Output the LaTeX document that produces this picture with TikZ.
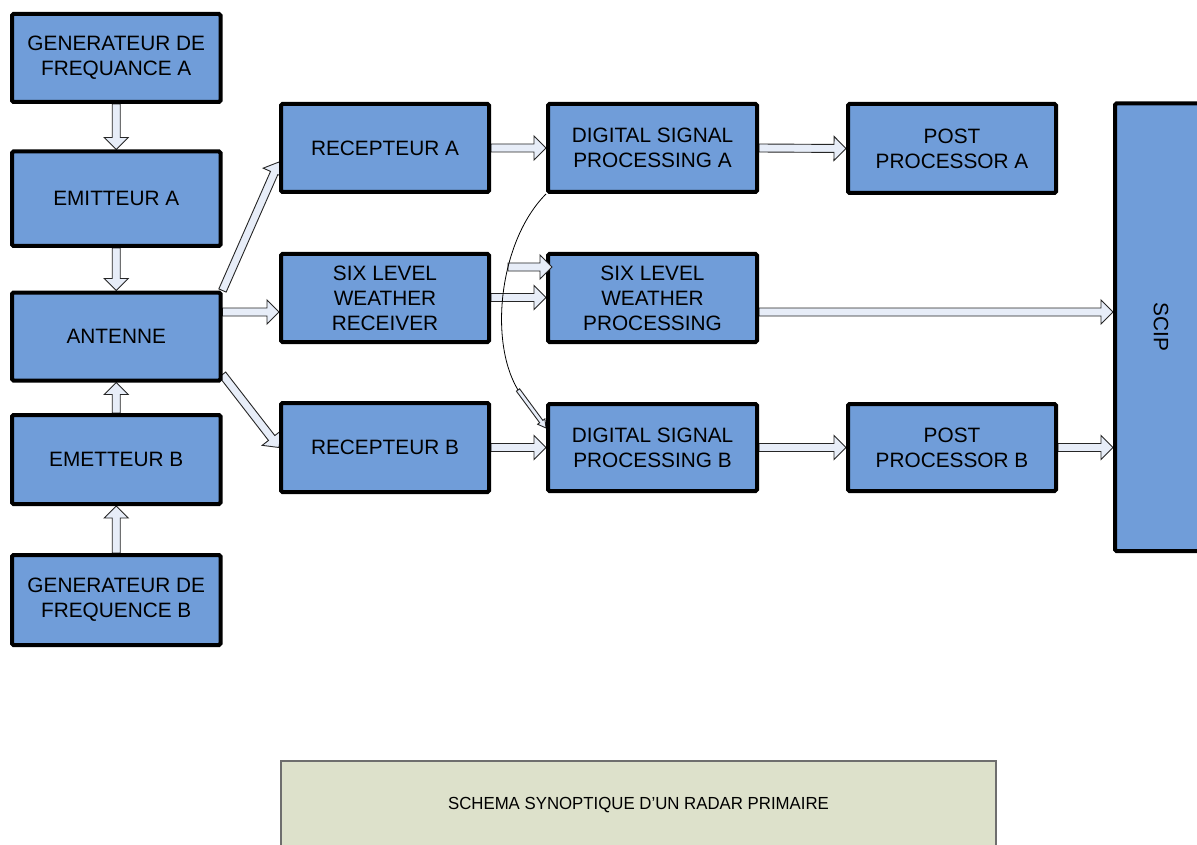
\documentclass[tikz,border=0pt]{standalone}
\usepackage{fontspec}
\setmainfont{Liberation Sans}
\newfontfamily\capfont[FakeStretch=0.96]{Liberation Sans}
\usetikzlibrary{calc}
\definecolor{boxblue}{RGB}{112,157,217}
\definecolor{arrowfill}{RGB}{231,237,248}
\definecolor{capfill}{RGB}{221,225,203}
\definecolor{capline}{RGB}{110,110,110}
\pgfdeclarelayer{bg}
\pgfsetlayers{bg,main}
% half shaft, half head, head length, start, end
\newcommand\blkarrow[5]{%
  \path (#4) coordinate (ba-s) (#5) coordinate (ba-e);
  \path ($(ba-e)!#3!(ba-s)$) coordinate (ba-h);
  \draw[arrowshape] ($(ba-s)!#1!90:(ba-e)$) -- ($(ba-h)!#1!90:(ba-e)$)
    -- ($(ba-h)!#2!90:(ba-e)$) -- (ba-e) -- ($(ba-h)!#2!-90:(ba-e)$)
    -- ($(ba-h)!#1!-90:(ba-e)$) -- ($(ba-s)!#1!-90:(ba-e)$) -- cycle;
}
\begin{document}
\begin{tikzpicture}[x=1pt,y=-1pt,
  box/.style={draw=black, line width=4pt, fill=boxblue, rounded corners=1.5pt,
    align=center, inner sep=0pt, text=black,
    font=\fontsize{20.8pt}{25pt}\selectfont},
  arrowshape/.style={draw=black!85, line width=0.9pt, fill=arrowfill, line join=miter},
  capbox/.style={draw=capline, line width=1.2pt, fill=capfill, inner sep=0pt,
    font=\capfont\fontsize{17.5pt}{20pt}\selectfont}]
\clip (0,0) rectangle (1197,845);

% left column
\node[box, minimum width=208.5pt, minimum height=88pt] (genA) at (116.25,58) {GENERATEUR DE\\FREQUANCE A};
\node[box, minimum width=208.5pt, minimum height=94.5pt] (emA) at (116.25,198.75) {EMITTEUR A};
\node[box, minimum width=208.5pt, minimum height=88pt] (ant) at (116.25,336.5) {ANTENNE};
\node[box, minimum width=208.5pt, minimum height=89pt] (emB) at (116.25,459.5) {EMETTEUR B};
\node[box, minimum width=208.5pt, minimum height=90pt] (genB) at (116.25,600) {GENERATEUR DE\\FREQUENCE B};

% second column
\node[box, minimum width=208pt, minimum height=88pt] (recA) at (385,148) {RECEPTEUR A};
\node[box, minimum width=208pt, minimum height=88pt] (slr) at (385,298) {SIX LEVEL\\WEATHER\\RECEIVER};
\node[box, minimum width=208pt, minimum height=89pt] (recB) at (385,447.5) {RECEPTEUR B};

% third column
\node[box, minimum width=209pt, minimum height=88pt] (dspA) at (652.5,148) {DIGITAL SIGNAL\\PROCESSING A};
\node[box, minimum width=209pt, minimum height=88pt] (slw) at (652.5,298) {SIX LEVEL\\WEATHER\\PROCESSING};
\node[box, minimum width=209pt, minimum height=87pt] (dspB) at (652.5,447.5) {DIGITAL SIGNAL\\PROCESSING B};

% fourth column
\node[box, minimum width=208pt, minimum height=89pt] (postA) at (952,148.5) {POST\\PROCESSOR A};
\node[box, minimum width=208pt, minimum height=87pt] (postB) at (952,447.5) {POST\\PROCESSOR B};

% SCIP
\node[box, minimum width=92pt, minimum height=447.5pt] (scip) at (1161,327.25) {};
\node[rotate=-90, font=\fontsize{20.8pt}{25pt}\selectfont, inner sep=0pt] (sciplabel) at (scip.center) {SCIP};

% caption
\node[capbox, minimum width=715pt, minimum height=88pt] (cap) at (638.5,805) {SCHEMA SYNOPTIQUE D’UN RADAR PRIMAIRE};

% helper coordinates
\coordinate (cv) at (518,390);
\coordinate (cw) at (508,267);

\begin{pgfonlayer}{bg}
  \fill[white] (0,0) rectangle (1197,845);
  \blkarrow{4pt}{12pt}{12pt}{genA.south}{emA.north}
  \blkarrow{4pt}{12pt}{12pt}{emA.south}{ant.north}
  \blkarrow{4pt}{12pt}{12pt}{emB.north}{ant.south}
  \blkarrow{4pt}{12pt}{12pt}{genB.north}{emB.south}
  \blkarrow{4pt}{12pt}{12pt}{ant.north east}{$(recA.west)+(0,14)$}
  \path ($(slr.west)+(0,14)$) coordinate (slrin);
  \blkarrow{4pt}{12pt}{12pt}{ant.east |- slrin}{slrin}
  \blkarrow{4pt}{12pt}{12pt}{$(ant.south east)+(0,-8)$}{recB.west}
  \blkarrow{4pt}{12pt}{12pt}{recA.east}{dspA.west}
  \blkarrow{4pt}{12pt}{12pt}{recB.east}{dspB.west}
  \blkarrow{4pt}{12pt}{12pt}{dspA.east}{postA.west}
  \blkarrow{4pt}{12pt}{12pt}{dspB.east}{postB.west}
  \blkarrow{4pt}{12pt}{12pt}{postB.east}{scip.west |- postB.east}
  \path ($(slw.east)+(0,14)$) coordinate (slwout);
  \blkarrow{4pt}{12pt}{12pt}{slwout}{scip.west |- slwout}
  \blkarrow{4pt}{12pt}{12pt}{$(slr.east)+(0,-0.5)$}{$(slw.west)+(0,-0.5)$}
  \blkarrow{2pt}{4.5pt}{8pt}{cv}{$(dspB.north west)+(0,26)$}
\end{pgfonlayer}

\blkarrow{4pt}{12pt}{12pt}{cw}{$(slw.west |- cw)+(6,0)$}
\draw[line width=0.8pt] (dspA.south west) .. controls (500,240) and (488,340) .. (cv);
\end{tikzpicture}
\end{document}
